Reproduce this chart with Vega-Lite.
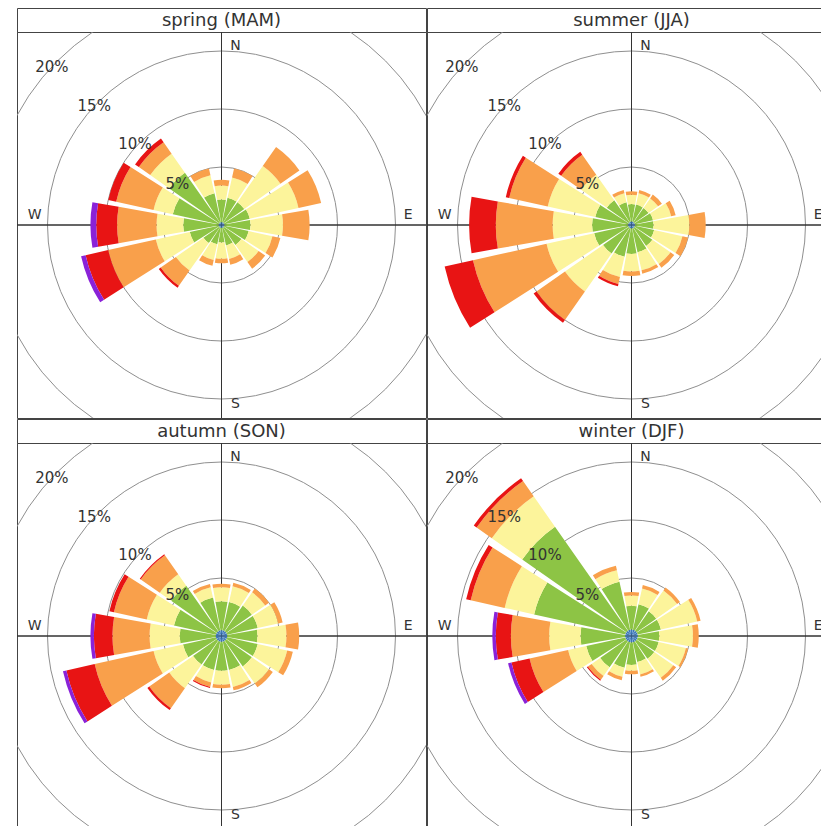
{
  "$schema": "https://vega.github.io/schema/vega-lite/v6.json",
  "padding": {"left": 16, "top": 7, "right": 0, "bottom": 0},
  "background": "white",
  "config": {
    "view": {"stroke": "#444", "strokeWidth": 1},
    "concat": {"spacing": 0},
    "text": {"font": "DejaVu Sans"}
  },
  "datasets": {
    "rings": [{"v": 5}, {"v": 10}, {"v": 15}, {"v": 20}],
    "axes": [{"d": 0}, {"d": 90}, {"d": 180}, {"d": 270}],
    "pct": [{"lab": "5%", "v": 5.2}, {"lab": "10%", "v": 10.2}, {"lab": "15%", "v": 15}, {"lab": "20%", "v": 20}],
    "ns": [{"lab": "N", "d": 0}, {"lab": "S", "d": 180}],
    "ew": [{"lab": "E", "d": 90}, {"lab": "W", "d": 270}],
    "rose": [
      {"s": "spring", "d": 0, "c1": 0.25, "c2": 1.95, "c3": 1.2, "c4": 0.5, "c5": 0, "c6": 0},
      {"s": "spring", "d": 22.5, "c1": 0.25, "c2": 2.15, "c3": 1.8, "c4": 0.8, "c5": 0, "c6": 0},
      {"s": "spring", "d": 45, "c1": 0.25, "c2": 2.15, "c3": 3.8, "c4": 2.0, "c5": 0, "c6": 0},
      {"s": "spring", "d": 67.5, "c1": 0.25, "c2": 2.25, "c3": 4.3, "c4": 2.0, "c5": 0, "c6": 0},
      {"s": "spring", "d": 90, "c1": 0.25, "c2": 2.25, "c3": 2.8, "c4": 2.3, "c5": 0, "c6": 0},
      {"s": "spring", "d": 112.5, "c1": 0.25, "c2": 2.15, "c3": 2.1, "c4": 0.7, "c5": 0, "c6": 0},
      {"s": "spring", "d": 135, "c1": 0.25, "c2": 1.85, "c3": 1.8, "c4": 0.7, "c5": 0, "c6": 0},
      {"s": "spring", "d": 157.5, "c1": 0.25, "c2": 1.55, "c3": 1.2, "c4": 0.5, "c5": 0, "c6": 0},
      {"s": "spring", "d": 180, "c1": 0.25, "c2": 1.25, "c3": 1.4, "c4": 0.4, "c5": 0, "c6": 0},
      {"s": "spring", "d": 202.5, "c1": 0.25, "c2": 1.45, "c3": 1.4, "c4": 0.5, "c5": 0, "c6": 0},
      {"s": "spring", "d": 225, "c1": 0.25, "c2": 1.65, "c3": 2.9, "c4": 1.6, "c5": 0.2, "c6": 0},
      {"s": "spring", "d": 247.5, "c1": 0.25, "c2": 2.55, "c3": 3.0, "c4": 4.2, "c5": 2.0, "c6": 0.4},
      {"s": "spring", "d": 270, "c1": 0.25, "c2": 3.05, "c3": 2.3, "c4": 3.4, "c5": 1.8, "c6": 0.5},
      {"s": "spring", "d": 292.5, "c1": 0.25, "c2": 4.05, "c3": 1.7, "c4": 3.3, "c5": 0.7, "c6": 0},
      {"s": "spring", "d": 315, "c1": 0.25, "c2": 5.25, "c3": 2.0, "c4": 1.2, "c5": 0.4, "c6": 0},
      {"s": "spring", "d": 337.5, "c1": 0.25, "c2": 2.55, "c3": 1.6, "c4": 0.6, "c5": 0, "c6": 0},
      {"s": "summer", "d": 0, "c1": 0.3, "c2": 1.5, "c3": 0.8, "c4": 0.3, "c5": 0, "c6": 0},
      {"s": "summer", "d": 22.5, "c1": 0.3, "c2": 1.5, "c3": 1.0, "c4": 0.3, "c5": 0, "c6": 0},
      {"s": "summer", "d": 45, "c1": 0.3, "c2": 1.5, "c3": 1.0, "c4": 0.4, "c5": 0, "c6": 0},
      {"s": "summer", "d": 67.5, "c1": 0.3, "c2": 1.6, "c3": 1.6, "c4": 0.4, "c5": 0, "c6": 0},
      {"s": "summer", "d": 90, "c1": 0.3, "c2": 1.6, "c3": 3.1, "c4": 1.4, "c5": 0, "c6": 0},
      {"s": "summer", "d": 112.5, "c1": 0.3, "c2": 1.7, "c3": 2.5, "c4": 0.5, "c5": 0, "c6": 0},
      {"s": "summer", "d": 135, "c1": 0.3, "c2": 1.9, "c3": 1.9, "c4": 0.4, "c5": 0, "c6": 0},
      {"s": "summer", "d": 157.5, "c1": 0.3, "c2": 2.1, "c3": 1.6, "c4": 0.3, "c5": 0, "c6": 0},
      {"s": "summer", "d": 180, "c1": 0.3, "c2": 2.2, "c3": 1.5, "c4": 0.4, "c5": 0, "c6": 0},
      {"s": "summer", "d": 202.5, "c1": 0.3, "c2": 2.5, "c3": 1.8, "c4": 0.6, "c5": 0.2, "c6": 0},
      {"s": "summer", "d": 225, "c1": 0.3, "c2": 2.7, "c3": 4.0, "c4": 3.0, "c5": 0.3, "c6": 0},
      {"s": "summer", "d": 247.5, "c1": 0.3, "c2": 3.0, "c3": 4.2, "c4": 6.5, "c5": 2.5, "c6": 0},
      {"s": "summer", "d": 270, "c1": 0.3, "c2": 3.1, "c3": 3.4, "c4": 4.9, "c5": 2.3, "c6": 0},
      {"s": "summer", "d": 292.5, "c1": 0.3, "c2": 2.9, "c3": 4.2, "c4": 3.4, "c5": 0.3, "c6": 0},
      {"s": "summer", "d": 315, "c1": 0.3, "c2": 2.3, "c3": 2.7, "c4": 2.1, "c5": 0.3, "c6": 0},
      {"s": "summer", "d": 337.5, "c1": 0.3, "c2": 1.7, "c3": 0.8, "c4": 0.3, "c5": 0, "c6": 0},
      {"s": "autumn", "d": 0, "c1": 0.5, "c2": 2.5, "c3": 1.2, "c4": 0.3, "c5": 0, "c6": 0},
      {"s": "autumn", "d": 22.5, "c1": 0.5, "c2": 2.5, "c3": 1.4, "c4": 0.3, "c5": 0, "c6": 0},
      {"s": "autumn", "d": 45, "c1": 0.5, "c2": 2.7, "c3": 1.4, "c4": 0.4, "c5": 0, "c6": 0},
      {"s": "autumn", "d": 67.5, "c1": 0.5, "c2": 2.7, "c3": 1.8, "c4": 0.4, "c5": 0, "c6": 0},
      {"s": "autumn", "d": 90, "c1": 0.5, "c2": 2.6, "c3": 2.5, "c4": 1.1, "c5": 0, "c6": 0},
      {"s": "autumn", "d": 112.5, "c1": 0.5, "c2": 2.7, "c3": 2.6, "c4": 0.5, "c5": 0, "c6": 0},
      {"s": "autumn", "d": 135, "c1": 0.5, "c2": 2.7, "c3": 1.8, "c4": 0.4, "c5": 0, "c6": 0},
      {"s": "autumn", "d": 157.5, "c1": 0.5, "c2": 2.5, "c3": 1.5, "c4": 0.3, "c5": 0, "c6": 0},
      {"s": "autumn", "d": 180, "c1": 0.5, "c2": 2.5, "c3": 1.2, "c4": 0.3, "c5": 0, "c6": 0},
      {"s": "autumn", "d": 202.5, "c1": 0.5, "c2": 2.5, "c3": 1.1, "c4": 0.4, "c5": 0.1, "c6": 0},
      {"s": "autumn", "d": 225, "c1": 0.5, "c2": 2.5, "c3": 2.5, "c4": 2.1, "c5": 0.2, "c6": 0},
      {"s": "autumn", "d": 247.5, "c1": 0.5, "c2": 2.9, "c3": 2.6, "c4": 5.2, "c5": 2.5, "c6": 0.3},
      {"s": "autumn", "d": 270, "c1": 0.5, "c2": 3.1, "c3": 2.6, "c4": 3.2, "c5": 1.6, "c6": 0.3},
      {"s": "autumn", "d": 292.5, "c1": 0.5, "c2": 3.7, "c3": 2.4, "c4": 2.9, "c5": 0.4, "c6": 0},
      {"s": "autumn", "d": 315, "c1": 0.5, "c2": 4.8, "c3": 1.2, "c4": 2.0, "c5": 0.1, "c6": 0},
      {"s": "autumn", "d": 337.5, "c1": 0.5, "c2": 2.9, "c3": 0.9, "c4": 0.3, "c5": 0, "c6": 0},
      {"s": "winter", "d": 0, "c1": 0.55, "c2": 2.05, "c3": 0.9, "c4": 0.3, "c5": 0, "c6": 0},
      {"s": "winter", "d": 22.5, "c1": 0.55, "c2": 2.25, "c3": 1.4, "c4": 0.3, "c5": 0, "c6": 0},
      {"s": "winter", "d": 45, "c1": 0.55, "c2": 2.05, "c3": 2.2, "c4": 0.3, "c5": 0, "c6": 0},
      {"s": "winter", "d": 67.5, "c1": 0.55, "c2": 2.05, "c3": 3.2, "c4": 0.3, "c5": 0, "c6": 0},
      {"s": "winter", "d": 90, "c1": 0.55, "c2": 1.85, "c3": 2.9, "c4": 0.5, "c5": 0, "c6": 0},
      {"s": "winter", "d": 112.5, "c1": 0.55, "c2": 1.85, "c3": 2.4, "c4": 0.2, "c5": 0, "c6": 0},
      {"s": "winter", "d": 135, "c1": 0.55, "c2": 1.85, "c3": 2.0, "c4": 0.3, "c5": 0, "c6": 0},
      {"s": "winter", "d": 157.5, "c1": 0.55, "c2": 1.75, "c3": 1.1, "c4": 0.2, "c5": 0, "c6": 0},
      {"s": "winter", "d": 180, "c1": 0.55, "c2": 1.95, "c3": 0.5, "c4": 0.3, "c5": 0, "c6": 0},
      {"s": "winter", "d": 202.5, "c1": 0.55, "c2": 2.25, "c3": 0.8, "c4": 0.3, "c5": 0, "c6": 0},
      {"s": "winter", "d": 225, "c1": 0.55, "c2": 2.75, "c3": 0.9, "c4": 0.4, "c5": 0.1, "c6": 0},
      {"s": "winter", "d": 247.5, "c1": 0.55, "c2": 3.45, "c3": 1.6, "c4": 3.4, "c5": 1.6, "c6": 0.3},
      {"s": "winter", "d": 270, "c1": 0.55, "c2": 3.85, "c3": 2.7, "c4": 3.3, "c5": 1.3, "c6": 0.3},
      {"s": "winter", "d": 292.5, "c1": 0.55, "c2": 8.05, "c3": 2.6, "c4": 3.0, "c5": 0.4, "c6": 0},
      {"s": "winter", "d": 315, "c1": 0.55, "c2": 10.95, "c3": 3.2, "c4": 1.6, "c5": 0.3, "c6": 0},
      {"s": "winter", "d": 337.5, "c1": 0.55, "c2": 4.25, "c3": 1.0, "c4": 0.4, "c5": 0, "c6": 0}
    ]
  },
  "spacing": -1,
  "vconcat": [
    {
      "spacing": -1,
      "hconcat": [
        {
          "spacing": 0,
          "bounds": "flush",
          "vconcat": [
            {"width": 409, "height": 24, "view": {"stroke": "#444", "strokeWidth": 1}, "data": {"values": [{"t": "spring (MAM)"}]}, "mark": {"type": "text", "fontSize": 18, "fill": "#333", "baseline": "middle", "dy": 1}, "encoding": {"text": {"field": "t"}}},
            {
              "width": 409, "height": 386, "view": {"stroke": "#444", "strokeWidth": 1},
              "layer": [
                {"data": {"name": "rings"}, "mark": {"type": "arc", "filled": false, "stroke": "#8f8f8f", "strokeWidth": 1, "clip": true}, "encoding": {"theta": {"datum": 0, "scale": {"type": "linear", "domain": [0, 360], "range": [0, 6.283185307179586], "nice": false, "zero": false}}, "theta2": {"datum": 360}, "radius": {"field": "v", "type": "quantitative", "stack": null, "scale": {"type": "linear", "domain": [0, 20], "range": [0, 232], "nice": false, "zero": true}}}},
                {"data": {"name": "axes"}, "mark": {"type": "arc", "filled": false, "stroke": "#333", "strokeWidth": 1, "clip": true}, "encoding": {"theta": {"field": "d", "type": "quantitative", "stack": null}, "theta2": {"field": "d"}, "radius": {"datum": 30}, "radius2": {"datum": 0}}},
                {"data": {"name": "rose"}, "transform": [{"filter": "datum.s == 'spring'"}, {"fold": ["c1", "c2", "c3", "c4", "c5", "c6"], "as": ["cat", "v"]}, {"filter": "datum.v > 0"}, {"stack": "v", "groupby": ["d"], "sort": [{"field": "cat", "order": "ascending"}], "as": ["r0", "r1"]}, {"calculate": "datum.d - 10", "as": "t0"}, {"calculate": "datum.d + 10", "as": "t1"}], "mark": {"type": "arc", "clip": true}, "encoding": {"theta": {"field": "t0", "type": "quantitative", "stack": null}, "theta2": {"field": "t1"}, "radius": {"field": "r1", "type": "quantitative", "stack": null}, "radius2": {"field": "r0"}, "color": {"field": "cat", "type": "nominal", "legend": null, "scale": {"domain": ["c1", "c2", "c3", "c4", "c5", "c6"], "range": ["#3b76b8", "#8dc445", "#fcf49b", "#f9a04b", "#e81414", "#8a22d8"]}}}},
                {"data": {"name": "pct"}, "mark": {"type": "text", "fontSize": 15, "fill": "#333"}, "encoding": {"theta": {"datum": 313}, "radius": {"field": "v", "type": "quantitative", "stack": null}, "text": {"field": "lab"}}},
                {"data": {"name": "ns"}, "mark": {"type": "text", "fontSize": 14, "fill": "#333", "dx": 14}, "encoding": {"theta": {"field": "d", "type": "quantitative", "stack": null}, "radius": {"datum": 15.4}, "text": {"field": "lab"}}},
                {"data": {"name": "ew"}, "mark": {"type": "text", "fontSize": 14, "fill": "#333", "dy": -10}, "encoding": {"theta": {"field": "d", "type": "quantitative", "stack": null}, "radius": {"datum": 16.1}, "text": {"field": "lab"}}}
              ]
            }
          ]
        },
        {
          "spacing": 0,
          "bounds": "flush",
          "vconcat": [
            {"width": 409, "height": 24, "view": {"stroke": "#444", "strokeWidth": 1}, "data": {"values": [{"t": "summer (JJA)"}]}, "mark": {"type": "text", "fontSize": 18, "fill": "#333", "baseline": "middle", "dy": 1}, "encoding": {"text": {"field": "t"}}},
            {
              "width": 409, "height": 386, "view": {"stroke": "#444", "strokeWidth": 1},
              "layer": [
                {"data": {"name": "rings"}, "mark": {"type": "arc", "filled": false, "stroke": "#8f8f8f", "strokeWidth": 1, "clip": true}, "encoding": {"theta": {"datum": 0, "scale": {"type": "linear", "domain": [0, 360], "range": [0, 6.283185307179586], "nice": false, "zero": false}}, "theta2": {"datum": 360}, "radius": {"field": "v", "type": "quantitative", "stack": null, "scale": {"type": "linear", "domain": [0, 20], "range": [0, 232], "nice": false, "zero": true}}}},
                {"data": {"name": "axes"}, "mark": {"type": "arc", "filled": false, "stroke": "#333", "strokeWidth": 1, "clip": true}, "encoding": {"theta": {"field": "d", "type": "quantitative", "stack": null}, "theta2": {"field": "d"}, "radius": {"datum": 30}, "radius2": {"datum": 0}}},
                {"data": {"name": "rose"}, "transform": [{"filter": "datum.s == 'summer'"}, {"fold": ["c1", "c2", "c3", "c4", "c5", "c6"], "as": ["cat", "v"]}, {"filter": "datum.v > 0"}, {"stack": "v", "groupby": ["d"], "sort": [{"field": "cat", "order": "ascending"}], "as": ["r0", "r1"]}, {"calculate": "datum.d - 10", "as": "t0"}, {"calculate": "datum.d + 10", "as": "t1"}], "mark": {"type": "arc", "clip": true}, "encoding": {"theta": {"field": "t0", "type": "quantitative", "stack": null}, "theta2": {"field": "t1"}, "radius": {"field": "r1", "type": "quantitative", "stack": null}, "radius2": {"field": "r0"}, "color": {"field": "cat", "type": "nominal", "legend": null, "scale": {"domain": ["c1", "c2", "c3", "c4", "c5", "c6"], "range": ["#3b76b8", "#8dc445", "#fcf49b", "#f9a04b", "#e81414", "#8a22d8"]}}}},
                {"data": {"name": "pct"}, "mark": {"type": "text", "fontSize": 15, "fill": "#333"}, "encoding": {"theta": {"datum": 313}, "radius": {"field": "v", "type": "quantitative", "stack": null}, "text": {"field": "lab"}}},
                {"data": {"name": "ns"}, "mark": {"type": "text", "fontSize": 14, "fill": "#333", "dx": 14}, "encoding": {"theta": {"field": "d", "type": "quantitative", "stack": null}, "radius": {"datum": 15.4}, "text": {"field": "lab"}}},
                {"data": {"name": "ew"}, "mark": {"type": "text", "fontSize": 14, "fill": "#333", "dy": -10}, "encoding": {"theta": {"field": "d", "type": "quantitative", "stack": null}, "radius": {"datum": 16.1}, "text": {"field": "lab"}}}
              ]
            }
          ]
        }
      ]
    },
    {
      "spacing": -1,
      "hconcat": [
        {
          "spacing": 0,
          "bounds": "flush",
          "vconcat": [
            {"width": 409, "height": 24, "view": {"stroke": "#444", "strokeWidth": 1}, "data": {"values": [{"t": "autumn (SON)"}]}, "mark": {"type": "text", "fontSize": 18, "fill": "#333", "baseline": "middle", "dy": 1}, "encoding": {"text": {"field": "t"}}},
            {
              "width": 409, "height": 386, "view": {"stroke": "#444", "strokeWidth": 1},
              "layer": [
                {"data": {"name": "rings"}, "mark": {"type": "arc", "filled": false, "stroke": "#8f8f8f", "strokeWidth": 1, "clip": true}, "encoding": {"theta": {"datum": 0, "scale": {"type": "linear", "domain": [0, 360], "range": [0, 6.283185307179586], "nice": false, "zero": false}}, "theta2": {"datum": 360}, "radius": {"field": "v", "type": "quantitative", "stack": null, "scale": {"type": "linear", "domain": [0, 20], "range": [0, 232], "nice": false, "zero": true}}}},
                {"data": {"name": "axes"}, "mark": {"type": "arc", "filled": false, "stroke": "#333", "strokeWidth": 1, "clip": true}, "encoding": {"theta": {"field": "d", "type": "quantitative", "stack": null}, "theta2": {"field": "d"}, "radius": {"datum": 30}, "radius2": {"datum": 0}}},
                {"data": {"name": "rose"}, "transform": [{"filter": "datum.s == 'autumn'"}, {"fold": ["c1", "c2", "c3", "c4", "c5", "c6"], "as": ["cat", "v"]}, {"filter": "datum.v > 0"}, {"stack": "v", "groupby": ["d"], "sort": [{"field": "cat", "order": "ascending"}], "as": ["r0", "r1"]}, {"calculate": "datum.d - 10", "as": "t0"}, {"calculate": "datum.d + 10", "as": "t1"}], "mark": {"type": "arc", "clip": true}, "encoding": {"theta": {"field": "t0", "type": "quantitative", "stack": null}, "theta2": {"field": "t1"}, "radius": {"field": "r1", "type": "quantitative", "stack": null}, "radius2": {"field": "r0"}, "color": {"field": "cat", "type": "nominal", "legend": null, "scale": {"domain": ["c1", "c2", "c3", "c4", "c5", "c6"], "range": ["#3b76b8", "#8dc445", "#fcf49b", "#f9a04b", "#e81414", "#8a22d8"]}}}},
                {"data": {"name": "pct"}, "mark": {"type": "text", "fontSize": 15, "fill": "#333"}, "encoding": {"theta": {"datum": 313}, "radius": {"field": "v", "type": "quantitative", "stack": null}, "text": {"field": "lab"}}},
                {"data": {"name": "ns"}, "mark": {"type": "text", "fontSize": 14, "fill": "#333", "dx": 14}, "encoding": {"theta": {"field": "d", "type": "quantitative", "stack": null}, "radius": {"datum": 15.4}, "text": {"field": "lab"}}},
                {"data": {"name": "ew"}, "mark": {"type": "text", "fontSize": 14, "fill": "#333", "dy": -10}, "encoding": {"theta": {"field": "d", "type": "quantitative", "stack": null}, "radius": {"datum": 16.1}, "text": {"field": "lab"}}}
              ]
            }
          ]
        },
        {
          "spacing": 0,
          "bounds": "flush",
          "vconcat": [
            {"width": 409, "height": 24, "view": {"stroke": "#444", "strokeWidth": 1}, "data": {"values": [{"t": "winter (DJF)"}]}, "mark": {"type": "text", "fontSize": 18, "fill": "#333", "baseline": "middle", "dy": 1}, "encoding": {"text": {"field": "t"}}},
            {
              "width": 409, "height": 386, "view": {"stroke": "#444", "strokeWidth": 1},
              "layer": [
                {"data": {"name": "rings"}, "mark": {"type": "arc", "filled": false, "stroke": "#8f8f8f", "strokeWidth": 1, "clip": true}, "encoding": {"theta": {"datum": 0, "scale": {"type": "linear", "domain": [0, 360], "range": [0, 6.283185307179586], "nice": false, "zero": false}}, "theta2": {"datum": 360}, "radius": {"field": "v", "type": "quantitative", "stack": null, "scale": {"type": "linear", "domain": [0, 20], "range": [0, 232], "nice": false, "zero": true}}}},
                {"data": {"name": "axes"}, "mark": {"type": "arc", "filled": false, "stroke": "#333", "strokeWidth": 1, "clip": true}, "encoding": {"theta": {"field": "d", "type": "quantitative", "stack": null}, "theta2": {"field": "d"}, "radius": {"datum": 30}, "radius2": {"datum": 0}}},
                {"data": {"name": "rose"}, "transform": [{"filter": "datum.s == 'winter'"}, {"fold": ["c1", "c2", "c3", "c4", "c5", "c6"], "as": ["cat", "v"]}, {"filter": "datum.v > 0"}, {"stack": "v", "groupby": ["d"], "sort": [{"field": "cat", "order": "ascending"}], "as": ["r0", "r1"]}, {"calculate": "datum.d - 10", "as": "t0"}, {"calculate": "datum.d + 10", "as": "t1"}], "mark": {"type": "arc", "clip": true}, "encoding": {"theta": {"field": "t0", "type": "quantitative", "stack": null}, "theta2": {"field": "t1"}, "radius": {"field": "r1", "type": "quantitative", "stack": null}, "radius2": {"field": "r0"}, "color": {"field": "cat", "type": "nominal", "legend": null, "scale": {"domain": ["c1", "c2", "c3", "c4", "c5", "c6"], "range": ["#3b76b8", "#8dc445", "#fcf49b", "#f9a04b", "#e81414", "#8a22d8"]}}}},
                {"data": {"name": "pct"}, "mark": {"type": "text", "fontSize": 15, "fill": "#333"}, "encoding": {"theta": {"datum": 313}, "radius": {"field": "v", "type": "quantitative", "stack": null}, "text": {"field": "lab"}}},
                {"data": {"name": "ns"}, "mark": {"type": "text", "fontSize": 14, "fill": "#333", "dx": 14}, "encoding": {"theta": {"field": "d", "type": "quantitative", "stack": null}, "radius": {"datum": 15.4}, "text": {"field": "lab"}}},
                {"data": {"name": "ew"}, "mark": {"type": "text", "fontSize": 14, "fill": "#333", "dy": -10}, "encoding": {"theta": {"field": "d", "type": "quantitative", "stack": null}, "radius": {"datum": 16.1}, "text": {"field": "lab"}}}
              ]
            }
          ]
        }
      ]
    }
  ]
}
